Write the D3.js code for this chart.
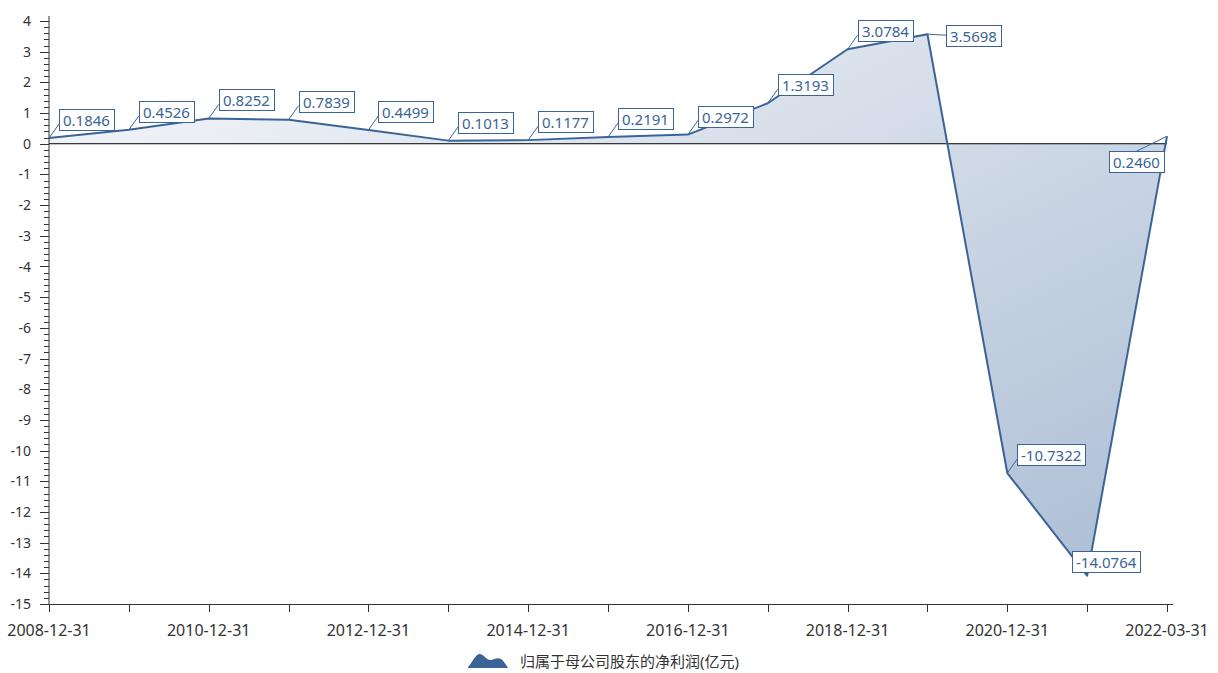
<!DOCTYPE html>
<html>
<head>
<meta charset="utf-8">
<script src="https://cdn.jsdelivr.net/npm/d3@7"></script>
<style>
    body { margin: 0; background: #fff; }
    text { font-family: "Noto Sans", "Noto Sans CJK SC", sans-serif; }
</style>
</head>
<body>
<div id="chart"></div>
<script>
// report dates and values (亿元)
const dates = ['2008-12-31', '2009-12-31', '2010-12-31', '2011-12-31', '2012-12-31',
    '2013-12-31', '2014-12-31', '2015-12-31', '2016-12-31', '2017-12-31',
    '2018-12-31', '2019-12-31', '2020-12-31', '2021-12-31', '2022-03-31'];
const profits = [0.1846, 0.4526, 0.8252, 0.7839, 0.4499, 0.1013, 0.1177, 0.2191,
    0.2972, 1.3193, 3.0784, 3.5698, -10.7322, -14.0764, 0.2460];
const yTicks = d3.range(-15, 5);
const seriesName = '归属于母公司股东的净利润(亿元)';

const width = 1218;
const height = 673;
const lineColor = '#3a6497';
const axisColor = '#333';

const svg = d3.select('#chart').append('svg')
    .attr('width', width)
    .attr('height', height);

const x = d3.scalePoint()
    .domain(dates)
    .range([49, 1167]);

const y = d3.scaleLinear()
    .domain([-15, 4])
    .range([604, 21]);

const defs = svg.append('defs');
const grad = defs.append('linearGradient')
    .attr('id', 'areaFill')
    .attr('x1', 0).attr('y1', 0)
    .attr('x2', 1).attr('y2', 1);
grad.append('stop').attr('offset', '0%').attr('stop-color', '#f7f8fb');
grad.append('stop').attr('offset', '100%').attr('stop-color', '#abbdd4');

const pts = dates.map((d, i) => ({ date: d, value: profits[i] }));

const area = d3.area()
    .x(d => x(d.date))
    .y0(y(0))
    .y1(d => y(d.value));

svg.append('path')
    .attr('d', area(pts))
    .attr('fill', 'url(#areaFill)');

// zero line
svg.append('line')
    .attr('x1', x.range()[0]).attr('x2', x.range()[1])
    .attr('y1', y(0)).attr('y2', y(0))
    .attr('stroke', '#000')
    .attr('stroke-width', 1);

const line = d3.line()
    .x(d => x(d.date))
    .y(d => y(d.value));

svg.append('path')
    .attr('d', line(pts))
    .attr('fill', 'none')
    .attr('stroke', lineColor)
    .attr('stroke-width', 2)
    .attr('stroke-linejoin', 'round');

// y axis with minor ticks
const yAxisG = svg.append('g')
    .attr('transform', `translate(${x.range()[0]},0)`);
yAxisG.append('line')
    .attr('x1', 0).attr('x2', 0)
    .attr('y1', 16).attr('y2', y(-15))
    .attr('stroke', axisColor);
const minor = d3.range(-15, 4.001, 0.2).filter(v => Math.abs(v - Math.round(v)) > 1e-6);
yAxisG.selectAll('.minor')
    .data(minor)
    .enter().append('line')
    .attr('x1', -5).attr('x2', 0)
    .attr('y1', d => Math.round(y(d)) + 0.5)
    .attr('y2', d => Math.round(y(d)) + 0.5)
    .attr('stroke', axisColor);
yAxisG.selectAll('.major')
    .data(yTicks)
    .enter().append('line')
    .attr('x1', -9).attr('x2', 0)
    .attr('y1', d => Math.round(y(d)) + 0.5)
    .attr('y2', d => Math.round(y(d)) + 0.5)
    .attr('stroke', axisColor);
yAxisG.selectAll('.ylab')
    .data(yTicks)
    .enter().append('text')
    .attr('x', -18)
    .attr('y', d => y(d))
    .attr('dy', '0.36em')
    .attr('text-anchor', 'end')
    .attr('font-size', 14)
    .attr('fill', axisColor)
    .text(d => d);

// x axis
const xAxisG = svg.append('g')
    .attr('transform', `translate(0,${y(-15)})`);
xAxisG.append('line')
    .attr('x1', x.range()[0]).attr('x2', 1173)
    .attr('y1', 0.5).attr('y2', 0.5)
    .attr('stroke', axisColor);
xAxisG.selectAll('.xtick')
    .data(dates)
    .enter().append('line')
    .attr('x1', d => Math.round(x(d)) + 0.5)
    .attr('x2', d => Math.round(x(d)) + 0.5)
    .attr('y1', 0).attr('y2', 8)
    .attr('stroke', axisColor);
xAxisG.selectAll('.xlab')
    .data(dates.filter((d, i) => i % 2 === 0))
    .enter().append('text')
    .attr('x', d => x(d))
    .attr('y', 32)
    .attr('text-anchor', 'middle')
    .attr('font-size', 16)
    .attr('fill', axisColor)
    .text(d => d);

// value labels: default box up-right of the point, a few moved aside
function labelPlace(i, px, py, w, h) {
    if (i === 11) return { bx: px + 19, by: py - 9, lx: px + 19, ly: py + 1 };
    if (i === 14) return { bx: px - w - 3, by: py + 15, lx: px - 3 - w / 2, ly: py + 15 };
    if (i === 13) return { bx: px - 15, by: py - 25, lx: px, ly: py };
    return { bx: px + 10, by: py - 29, lx: px + 10, ly: py - 14 };
}

const labels = svg.append('g');
pts.forEach((d, i) => {
    const px = x(d.date);
    const py = y(d.value);
    const g = labels.append('g');
    const t = g.append('text')
        .attr('font-size', 15)
        .attr('fill', lineColor)
        .text(d.value.toFixed(4));
    const tw = t.node().getComputedTextLength();
    const w = Math.round(tw + 8);
    const h = 21;
    const p = labelPlace(i, px, py, w, h);
    g.insert('line', 'text')
        .attr('x1', px).attr('y1', py)
        .attr('x2', p.lx).attr('y2', p.ly)
        .attr('stroke', lineColor)
        .attr('stroke-width', 1);
    g.insert('rect', 'text')
        .attr('x', Math.round(p.bx) + 0.5)
        .attr('y', Math.round(p.by) + 0.5)
        .attr('width', w)
        .attr('height', h)
        .attr('fill', '#fff')
        .attr('stroke', lineColor)
        .attr('stroke-width', 1);
    t.attr('x', Math.round(p.bx) + 4)
        .attr('y', Math.round(p.by) + h / 2 + 1)
        .attr('dy', '0.35em');
});

// legend
const legend = svg.append('g')
    .attr('transform', 'translate(468,653)');
legend.append('path')
    .attr('d', 'M0,15 L0,14 C4,10 8,0 12,1 C16,2 19,7 22,7 C26,7 29,4 33,6 C36,8 38,12 40,15 Z')
    .attr('fill', lineColor);
legend.append('text')
    .attr('x', 52)
    .attr('y', 9)
    .attr('dy', '0.35em')
    .attr('font-size', 15)
    .attr('fill', axisColor)
    .text(seriesName);
</script>
</body>
</html>
